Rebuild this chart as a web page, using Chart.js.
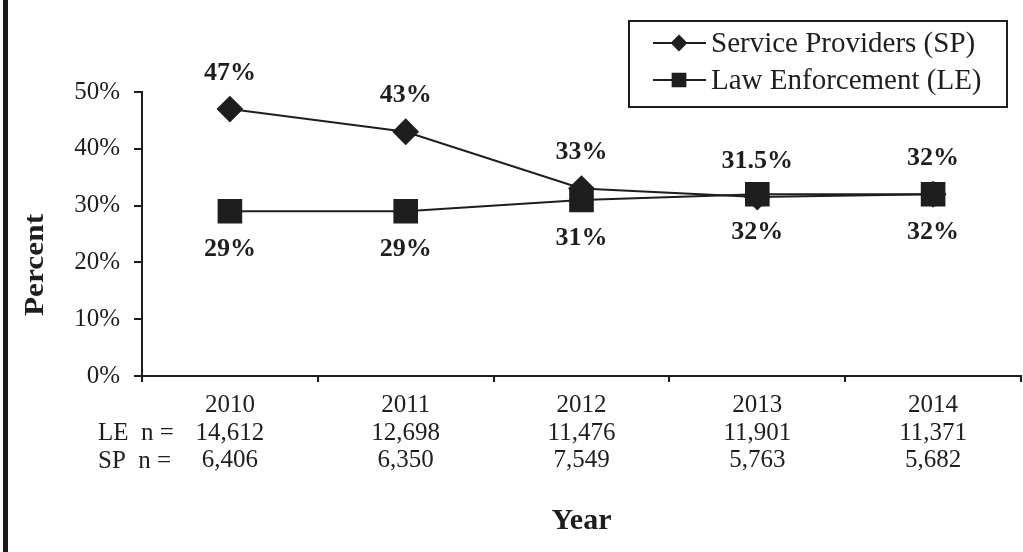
<!DOCTYPE html>
<html>
<head>
<meta charset="utf-8">
<script src="https://cdn.jsdelivr.net/npm/chart.js@4"></script>
<style>
  html, body { margin: 0; padding: 0; background: #fff; }
  #wrap { position: relative; width: 1023px; height: 552px; }
  #grafica { display: block; }
  #bar { position: absolute; left: 3px; top: 0; width: 5px; height: 552px; background: #1c1c1c; }
</style>
</head>
<body>
<div id="wrap">
  <canvas id="grafica" width="1023" height="552"></canvas>
  <div id="bar"></div>
</div>
<script>
const years = ['2010', '2011', '2012', '2013', '2014'];
const spPercent = [47, 43, 33, 31.5, 32];
const lePercent = [29, 29, 31, 32, 32];
const leCount = [14612, 12698, 11476, 11901, 11371];
const spCount = [6406, 6350, 7549, 5763, 5682];

const ink = '#1e1e1e';
const serif = '"Liberation Serif", "Times New Roman", serif';

// labels above/below the points, row headers, y title and boxed legend
const extras = {
  id: 'extras',
  afterDatasetsDraw(chart) {
    const ctx = chart.ctx;
    ctx.save();
    ctx.fillStyle = ink;
    ctx.textAlign = 'center';
    ctx.textBaseline = 'middle';
    ctx.font = 'bold 26px ' + serif;
    chart.data.datasets.forEach((ds, i) => {
      const meta = chart.getDatasetMeta(i);
      meta.data.forEach((pt, j) => {
        const dy = ds.labelSide === 'above' ? -36 : 38;
        ctx.fillText(ds.data[j] + '%', pt.x, pt.y + dy);
      });
    });

    // n = row headers next to the tick rows
    const xs = chart.scales.x;
    ctx.font = '25px ' + serif;
    ctx.textAlign = 'left';
    ctx.fillText('LE  n =', 98, xs.top + 57);
    ctx.fillText('SP  n =', 98, xs.top + 85);

    // y title
    ctx.save();
    ctx.translate(36, 265);
    ctx.rotate(-Math.PI / 2);
    ctx.scale(1.12, 1);
    ctx.textAlign = 'center';
    ctx.font = 'bold 28px ' + serif;
    ctx.fillText('Percent', 0, 0);
    ctx.restore();

    // legend box
    ctx.lineWidth = 2;
    ctx.strokeStyle = ink;
    ctx.strokeRect(629, 21, 378, 86);
    const order = [1, 0];
    order.forEach((idx, k) => {
      const ds = chart.data.datasets[idx];
      const y = 43 + k * 37;
      ctx.beginPath();
      ctx.moveTo(653, y);
      ctx.lineTo(706, y);
      ctx.lineWidth = 2;
      ctx.stroke();
      ctx.fillStyle = ink;
      Chart.helpers.drawPoint(ctx, {
        pointStyle: ds.pointStyle,
        radius: ds.pointStyle === 'rect' ? 9 : 7,
        rotation: 0,
        borderWidth: 1
      }, 679, y);
      ctx.fill();
      ctx.font = '29px ' + serif;
      ctx.textAlign = 'left';
      ctx.fillText(ds.label, 711, y + 1);
    });
    ctx.restore();
  }
};

const ctx = document.getElementById('grafica').getContext('2d');
new Chart(ctx, {
  type: 'line',
  data: {
    labels: years,
    datasets: [
      {
        label: 'Law Enforcement (LE)',
        data: lePercent,
        labelSide: 'below',
        borderColor: ink,
        backgroundColor: ink,
        borderWidth: 2,
        pointStyle: 'rect',
        pointRadius: 16,
        pointHoverRadius: 16,
        tension: 0,
        order: 0,
        clip: false
      },
      {
        label: 'Service Providers (SP)',
        data: spPercent,
        labelSide: 'above',
        borderColor: ink,
        backgroundColor: ink,
        borderWidth: 2,
        pointStyle: 'rectRot',
        pointRadius: 12,
        pointHoverRadius: 12,
        tension: 0,
        order: 1,
        clip: false
      }
    ]
  },
  options: {
    responsive: false,
    animation: false,
    layout: { autoPadding: false, padding: { top: 92, right: 2, left: 0, bottom: 0 } },
    plugins: {
      legend: { display: false },
      title: { display: false },
      tooltip: { enabled: false }
    },
    scales: {
      x: {
        offset: true,
        afterFit: function(scale) {
          scale.height = 176;
          scale.paddingLeft = 0;
          scale.paddingRight = 0;
        },
        grid: {
          offset: true,
          drawOnChartArea: false,
          drawTicks: true,
          tickLength: 6,
          color: ink,
          lineWidth: 2
        },
        border: { display: true, color: ink, width: 2 },
        ticks: {
          color: ink,
          padding: 10,
          maxRotation: 0,
          autoSkip: false,
          font: { family: serif, size: 25, lineHeight: 1.1 },
          callback: function(v, i) {
            return [years[i], leCount[i].toLocaleString('en-US'), spCount[i].toLocaleString('en-US')];
          }
        },
        title: {
          display: true,
          text: 'Year',
          color: ink,
          padding: 16,
          font: { family: serif, size: 30, weight: 'bold', lineHeight: 1 }
        }
      },
      y: {
        min: 0,
        max: 50,
        afterFit: function(scale) { scale.width = 142; },
        grid: {
          drawOnChartArea: false,
          drawTicks: true,
          tickLength: 8,
          color: ink,
          lineWidth: 2
        },
        border: { display: true, color: ink, width: 2 },
        ticks: {
          stepSize: 10,
          color: ink,
          padding: 14,
          font: { family: serif, size: 25 },
          callback: function(v) { return v + '%'; }
        }
      }
    }
  },
  plugins: [extras]
});
</script>
</body>
</html>
